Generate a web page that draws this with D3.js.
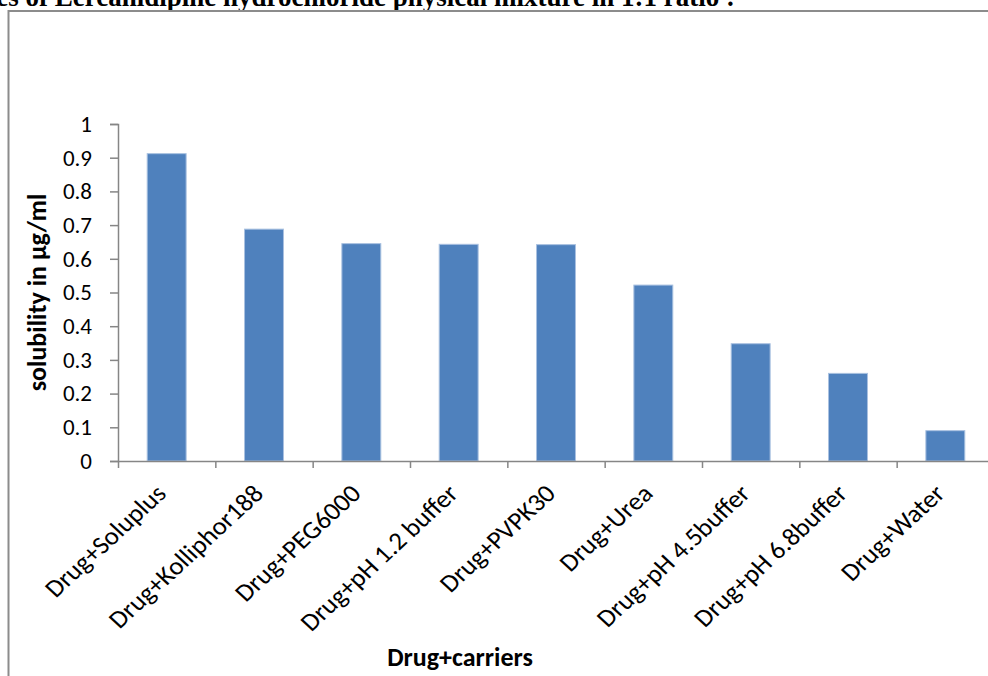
<!DOCTYPE html>
<html>
<head>
<meta charset="utf-8">
<script src="https://cdn.jsdelivr.net/npm/d3@7"></script>
<style>
  body { margin:0; background:#fff; }
  svg { display:block; }
  .lab { font-family: Carlito, Calibri, Lato, sans-serif; fill:#000; }
</style>
</head>
<body>
<div id="chart"></div>
<script>
// data
const carriers = ["Drug+Soluplus","Drug+Kolliphor188","Drug+PEG6000","Drug+pH 1.2 buffer","Drug+PVPK30","Drug+Urea","Drug+pH 4.5buffer","Drug+pH 6.8buffer","Drug+Water"]
const solubility = [0.912, 0.688, 0.645, 0.643, 0.642, 0.522, 0.348, 0.26, 0.09]
const yTicks = [0,0.1,0.2,0.3,0.4,0.5,0.6,0.7,0.8,0.9,1]

const W = 988, H = 676
let plot = {left:118, right:994, top:124, bottom:461}

const svg = d3.select("#chart").append("svg").attr("width",W).attr("height",H)

// cut-off heading of the page above the chart
svg.append("text")
  .attr("x",735).attr("y",6)
  .attr("text-anchor","end")
  .style("font-family","'Liberation Serif', 'Times New Roman', serif")
  .style("font-weight","bold").style("font-size","27px")
  .text("Solubility studies of Lercanidipine hydrochloride physical mixture in 1:1 ratio :")

// chart frame
svg.append("rect").attr("x",8.5).attr("y",11).attr("width",1000).attr("height",700)
  .attr("fill","none").attr("stroke","#8c8c8c").attr("stroke-width",2)

const x = d3.scaleBand().domain(carriers).range([plot.left,plot.right]).paddingInner(0.6).paddingOuter(0.3)
const xEdge = d3.scaleLinear().domain([0,carriers.length]).range([plot.left,plot.right])
const y = d3.scaleLinear().domain([0,1]).range([plot.bottom,plot.top])

// bars
svg.selectAll("rect.bar").data(carriers).enter().append("rect")
  .attr("class","bar")
  .attr("x",d=>x(d))
  .attr("width",x.bandwidth())
  .attr("y",(d,i)=>y(solubility[i]))
  .attr("height",(d,i)=>plot.bottom - y(solubility[i]))
  .attr("fill","#4f81bd")
  .attr("stroke","#a9c1e0").attr("stroke-width",1)

// y axis
const yAxis = d3.axisLeft(y).tickValues(yTicks).tickFormat(d3.format("")).tickSize(8).tickPadding(18)
let yG = svg.append("g").attr("transform",`translate(${plot.left},0)`).call(yAxis)
yG.select(".domain").attr("stroke","#868686").attr("stroke-width",1.5)
yG.selectAll(".tick line").attr("stroke","#868686").attr("stroke-width",1.5)
yG.selectAll(".tick text").attr("class","lab").style("font-size","23px")

// x axis (ticks between categories)
const xAxis = d3.axisBottom(xEdge).tickValues(d3.range(carriers.length+1)).tickFormat("").tickSize(7).tickSizeOuter(0)
let xG = svg.append("g").attr("transform",`translate(0,${plot.bottom})`).call(xAxis)
xG.select(".domain").attr("stroke","#868686").attr("stroke-width",1.5)
xG.selectAll(".tick line").attr("stroke","#868686").attr("stroke-width",1.5)

// category labels rotated (slightly stretched sideways like the source)
svg.selectAll("text.cat").data(carriers).enter().append("text")
  .attr("class","cat lab")
  .attr("text-anchor","end")
  .attr("transform",d=>`translate(${x(d)+x.bandwidth()/2+1},${plot.bottom+34}) scale(1.08,1) rotate(-45)`)
  .style("font-size","25px")
  .text(d=>d)

// axis titles
svg.append("text").attr("class","lab")
  .attr("text-anchor","middle")
  .attr("transform",`translate(46,${(plot.top+plot.bottom)/2}) rotate(-90)`)
  .style("font-size","26px").style("font-weight","bold")
  .text("solubility in µg/ml")

svg.append("text").attr("class","lab")
  .attr("text-anchor","middle")
  .attr("x",460).attr("y",666)
  .style("font-size","26px").style("font-weight","bold")
  .text("Drug+carriers")
</script>
</body>
</html>
